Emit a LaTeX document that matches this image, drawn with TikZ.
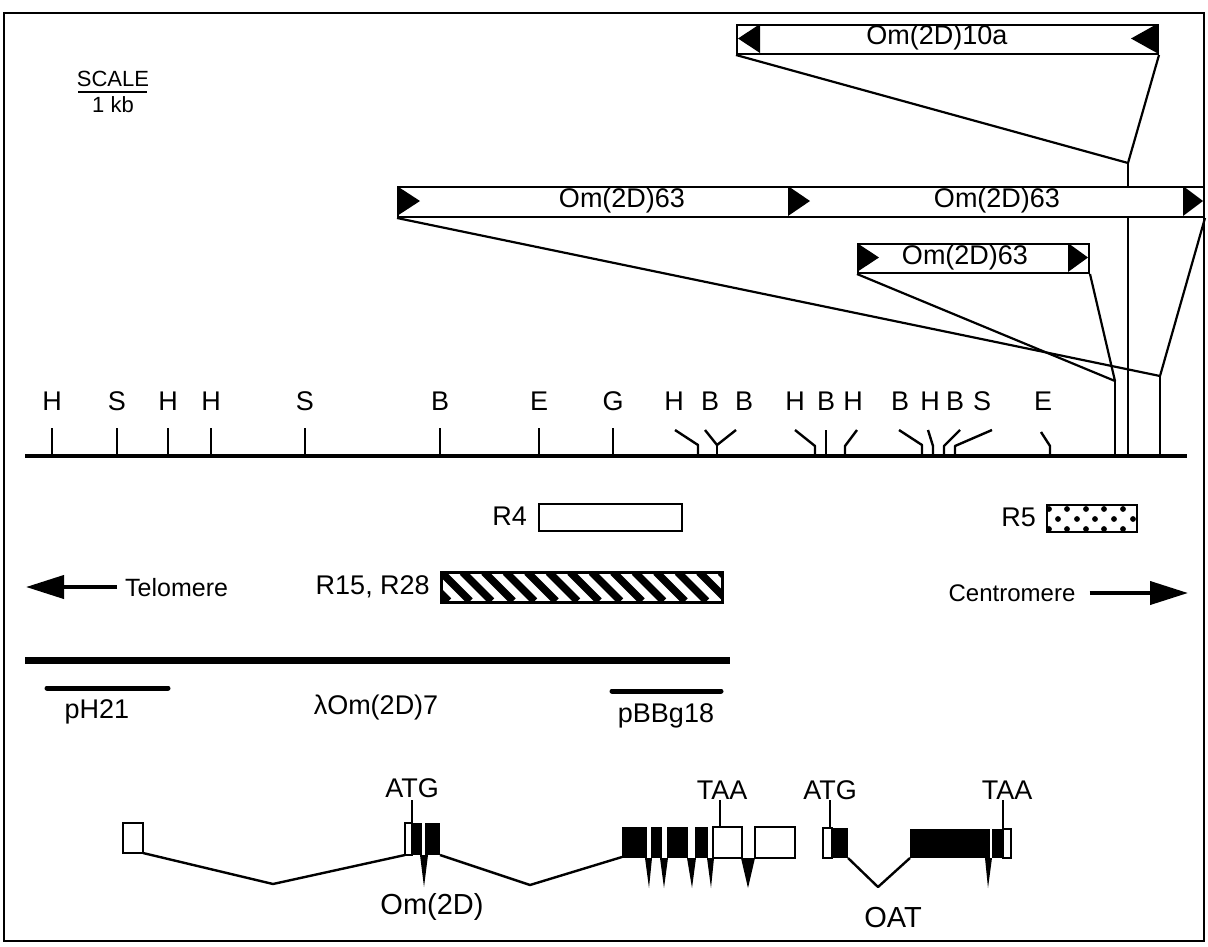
\documentclass[tikz,border=0pt]{standalone}
\usepackage{fontspec}
\setmainfont{Liberation Sans}
\usetikzlibrary{arrows.meta,calc,backgrounds}
\newcommand\myfs[1]{\fontsize{#1}{#1}\selectfont}
\begin{document}
\begin{tikzpicture}[x=1pt,y=-1pt,
  box/.style={draw,line width=2pt,fill=white,inner sep=0pt,anchor=north west},
  conn/.style={line width=2.2pt,line join=round},
  tickl/.style={line width=2.4pt,line join=round},
  rlbl/.style={inner sep=0pt,font=\myfs{27}},
  blbl/.style={inner sep=0pt,font=\myfs{27}},
  tlbl/.style={inner sep=0pt,font=\myfs{25}},
  glbl/.style={inner sep=0pt,font=\myfs{27}},
  exon/.style={draw,line width=1.8pt,fill=white},
  bexon/.style={fill=black},
  intron/.style={line width=2.4pt,line join=round},
  bigarrow/.style={line width=4pt,-{Triangle[length=38pt,width=23pt]}},
]
\useasboundingbox (0,0) rectangle (1208,946);
\draw[line width=2pt] (4,13) rectangle (1204,941);

% scale
\node[inner sep=0pt,font=\myfs{22}] (scale) at (113,79) {SCALE};
\draw[line width=2.2pt] (78,92) coordinate (sbL) -- (147,92) coordinate (sbR);
\node[inner sep=0pt,font=\myfs{22}] (kb) at (113,105) {1 kb};

% main map line
\coordinate (mL) at (25,456);
\coordinate (mR) at (1187,456);

% clone boxes
\node[box,minimum width=421pt,minimum height=29pt] (b10) at (736,24) {};
\fill (760,24) -- (738,38.5) -- (760,53) -- cycle;
\fill (1157,24) -- (1131,38.5) -- (1157,53) -- cycle;
\node[blbl] (t10) at (937,38) {Om(2D)10a};

\node[box,minimum width=806pt,minimum height=30pt] (b63) at (397,186) {};
\fill (397,186) -- (420,201) -- (397,216) -- cycle;
\fill (788,186) -- (810,201) -- (788,216) -- cycle;
\fill (1183,186) -- (1203,201) -- (1183,216) -- cycle;
\node[blbl] (t63a) at (622,201) {Om(2D)63};
\node[blbl] (t63b) at (997,201) {Om(2D)63};

\node[box,minimum width=231pt,minimum height=29pt] (s63) at (857,243) {};
\fill (857,243) -- (879,257.5) -- (857,272) -- cycle;
\fill (1068,243) -- (1088,257.5) -- (1068,272) -- cycle;
\node[blbl] (ts63) at (965,258) {Om(2D)63};

\coordinate (j10) at (1128,163);
\coordinate (j63) at (1160,376);
\coordinate (js) at (1115,381);

\begin{pgfonlayer}{background}
\draw[conn] (b10.south west) -- (j10) -- (b10.south east);
\draw[conn] (j10) -- (j10 |- mL);
\draw[conn] (b63.south west) -- (j63) -- (b63.south east);
\draw[conn] (j63) -- (j63 |- mL);
\draw[conn] (s63.south west) -- (js) -- (s63.south east);
\draw[conn] (js) -- (js |- mL);
\end{pgfonlayer}

\draw[line width=4pt] (mL) -- (mR);

% straight ticks
\foreach \x/\t in {52/H,117/S,168/H,211/H,305/S,440/B,539/E,613/G}{
  \node[rlbl] (r\x) at (\x,401) {\t};
  \draw[tickl] (\x,428) -- (\x,456);
}
% bent ticks
\foreach \x/\t in {674/H,710/B,744/B,795/H,826/B,853/H,900/B,930/H,955/B,982/S,1043/E}{
  \node[rlbl] (r\x) at (\x,401) {\t};
}
\draw[tickl] (675,430) -- (698,445) -- (698,456);
\draw[tickl] (705,430) -- (717,445) -- (736,430);
\draw[tickl] (717,445) -- (717,456);
\draw[tickl] (795,430) -- (815,446) -- (815,456);
\draw[tickl] (826,430) -- (826,456);
\draw[tickl] (857,430) -- (845,446) -- (845,456);
\draw[tickl] (899,430) -- (922,445) -- (922,456);
\draw[tickl] (928,430) -- (933,446) -- (933,456);
\draw[tickl] (960,430) -- (944,446) -- (944,456);
\draw[tickl] (992,430) -- (955,446) -- (955,456);
\draw[tickl] (1041,432) -- (1050,446) -- (1050,456);

% probes
\node[box,minimum width=143pt,minimum height=27pt] (r4) at (538,503) {};
\node[inner sep=0pt,font=\myfs{27},anchor=east] (r4l) at (527,516) {R4};

\node[box,minimum width=280pt,minimum height=29pt] (r15) at (441,572) {};
\begin{scope}
\clip (r15.north west) rectangle (r15.south east);
\foreach \k in {-2,...,14} \draw[line width=7.5pt] ({441+\k*21.5},572) -- ++(29,29);
\end{scope}
\draw[line width=2pt] (r15.north west) rectangle (r15.south east);
\node[inner sep=0pt,font=\myfs{27},anchor=east] (r15l) at (430,587) {R15, R28};

\node[box,minimum width=90pt,minimum height=27pt] (r5) at (1046,504) {};
\begin{scope}
\clip (r5.north west) rectangle (r5.south east);
\foreach \x in {1049,1067,1086,1104,1123} \fill (\x,509) circle[radius=2.9pt];
\foreach \x in {1058,1077,1095,1114,1133} \fill (\x,519) circle[radius=2.9pt];
\foreach \x in {1049,1067,1086,1104,1123} \fill (\x,529) circle[radius=2.9pt];
\end{scope}
\node[inner sep=0pt,font=\myfs{27},anchor=east] (r5l) at (1036,517) {R5};

% telomere / centromere
\node[tlbl,anchor=west] (tel) at (125,588) {Telomere};
\coordinate (telE) at (26,587);
\draw[bigarrow] ([xshift=-8pt]tel.west |- telE) -- (telE);
\node[inner sep=0pt,font=\myfs{24}] (cen) at (1012,593) {Centromere};
\coordinate (cenE) at (1188,593);
\draw[bigarrow] ([xshift=14pt]cen.east |- cenE) -- (cenE);

% clone lines
\draw[line width=7pt] (25,660) coordinate (lamL) -- (730,660) coordinate (lamR);
\node[glbl] (lam) at (376,708) {λOm(2D)7};
\draw[line width=5pt,line cap=round] (47,688) coordinate (phL) -- (168,688) coordinate (phR);
\node[glbl] (ph) at (97,712) {pH21};
\draw[line width=5pt,line cap=round] (612,691) coordinate (pbL) -- (721,691) coordinate (pbR);
\node[glbl] (pb) at (666,716) {pBBg18};

% Om(2D) gene
\draw[exon] (123,823) rectangle (143,853);
\draw[intron] (143,853) -- (273,884) -- (405,855);
\draw[exon] (405,823) rectangle (412,855);
\fill (412,823) rectangle (422,855);
\fill (425,823) rectangle (440,855);
\fill (420,855) -- (428,855) -- (424,887) -- cycle;
\draw[line width=1.8pt] (412,800) -- (412,823);
\node[glbl] (atg1) at (412,788) {ATG};
\draw[intron] (440,855) -- (530,885) -- (622,857);
\fill (622,827) rectangle (647,858);
\fill (651,827) rectangle (662,858);
\fill (667,827) rectangle (688,858);
\fill (695,827) rectangle (708,858);
\fill (645,858) -- (652,858) -- (649,888) -- cycle;
\fill (660,858) -- (668,858) -- (664,888) -- cycle;
\fill (687,858) -- (696,858) -- (692,888) -- cycle;
\fill (707,858) -- (714,858) -- (711,888) -- cycle;
\draw[exon] (713,827) rectangle (742,858);
\fill (741,858) -- (755,858) -- (748,888) -- cycle;
\draw[exon] (755,827) rectangle (795,858);
\draw[line width=1.8pt] (720,800) -- (720,827);
\node[glbl] (taa1) at (722,790) {TAA};
\node[inner sep=0pt,font=\myfs{29}] (omg) at (432,907) {Om(2D)};

% OAT gene
\draw[exon] (823,828) rectangle (832,858);
\fill (832,828) rectangle (848,858);
\draw[line width=1.8pt] (830,800) -- (830,828);
\node[glbl] (atg2) at (830,790) {ATG};
\draw[intron] (848,858) -- (878,887) -- (910,858);
\fill (910,829) rectangle (990,858);
\fill (985,858) -- (992,858) -- (988,888) -- cycle;
\fill (992,829) rectangle (1003,858);
\draw[exon] (1003,829) rectangle (1011,858);
\draw[line width=1.8pt] (1003,800) -- (1003,829);
\node[glbl] (taa2) at (1007,790) {TAA};
\node[inner sep=0pt,font=\myfs{29}] (oat) at (893,918) {OAT};
\end{tikzpicture}
\end{document}
